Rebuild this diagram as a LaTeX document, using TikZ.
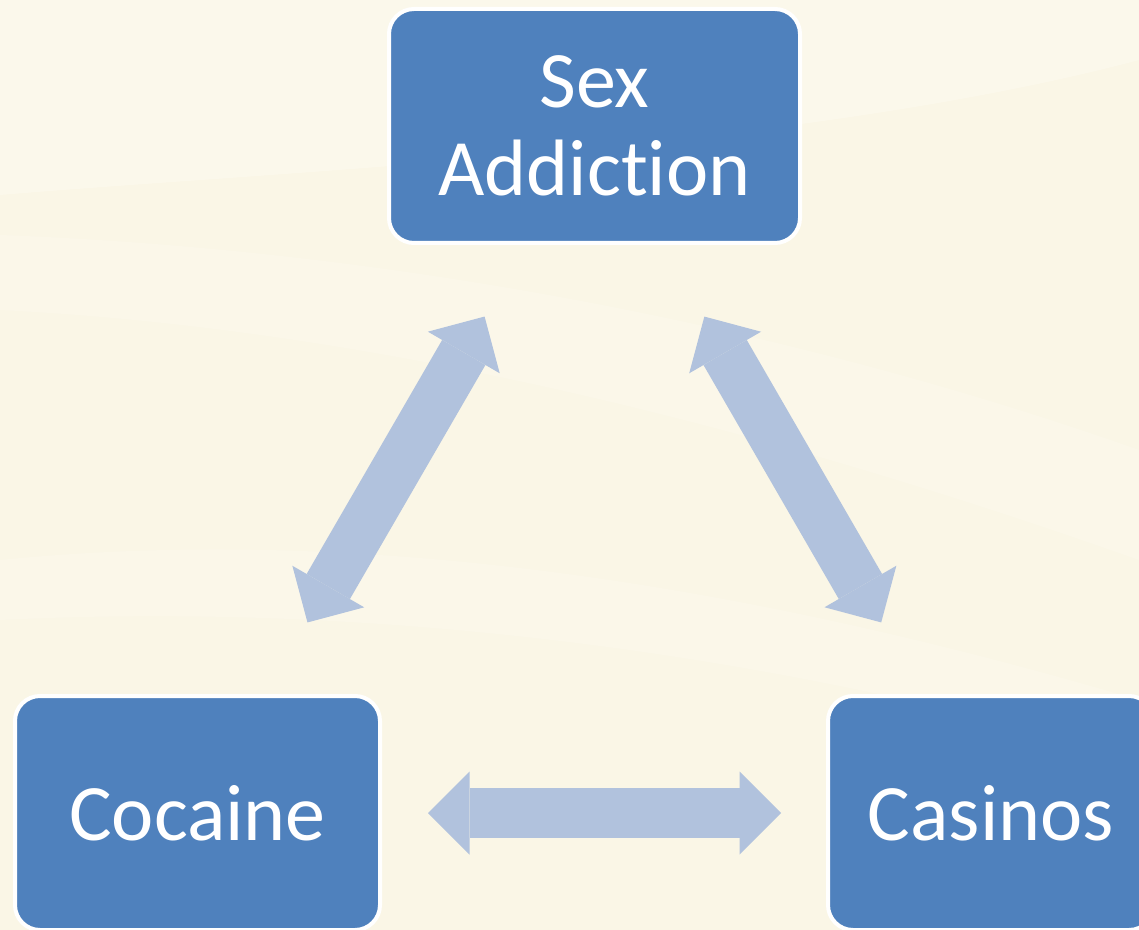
\documentclass[tikz,border=0pt]{standalone}
\usepackage{fontspec}
\setmainfont[Ligatures={NoCommon}]{Carlito}
\usetikzlibrary{arrows.meta}

\definecolor{paper}{HTML}{FAF6E6}
\definecolor{paperlight}{HTML}{FCF9ED}
\definecolor{boxblue}{HTML}{4F81BD}
\definecolor{arrowblue}{HTML}{B1C2DD}

\begin{document}
\begin{tikzpicture}[x=0.5pt, y=-0.5pt,
  box/.style={draw=white, line width=2pt, fill=boxblue, rounded corners=12.5pt,
    text=white, font=\fontsize{40}{44}\selectfont, align=center,
    minimum height=117pt, inner sep=0pt, outer sep=0pt},
  link/.style={draw=arrowblue, line width=25pt,
    >={Triangle[length=20.75pt, width=41.5pt, line width=0pt]}, <->}
]

\useasboundingbox (0,0) rectangle (1139,930);
\clip (0,0) rectangle (1139,930);

% background with faint waves
\fill[paper] (0,0) rectangle (1139,930);
\fill[paperlight, opacity=0.8] (0,0) -- (1139,0) -- (1139,60)
  .. controls (800,150) and (300,170) .. (0,195) -- cycle;
\fill[paperlight, opacity=0.5] (0,235) .. controls (400,250) and (800,330) .. (1139,450)
  -- (1139,560) .. controls (800,440) and (400,330) .. (0,310) -- cycle;
\fill[paperlight, opacity=0.5] (0,560) .. controls (400,520) and (800,600) .. (1139,700)
  -- (1139,760) .. controls (800,660) and (400,600) .. (0,620) -- cycle;

\node[box, minimum width=205.5pt] (sex) at (594.5,126) {Sex\\Addiction};
\node[box, minimum width=182.5pt] (coc) at (197.5,813) {Cocaine};
\node[box, minimum width=163pt] (cas) at (991,813) {Casinos};

\draw[link, shorten <=42.5pt, shorten >=42.5pt] (coc) -- (sex);
\draw[link, shorten <=42.5pt, shorten >=42.5pt] (sex) -- (cas);
\draw[link, shorten <=24pt, shorten >=23.5pt] (coc) -- (cas);

\end{tikzpicture}
\end{document}
